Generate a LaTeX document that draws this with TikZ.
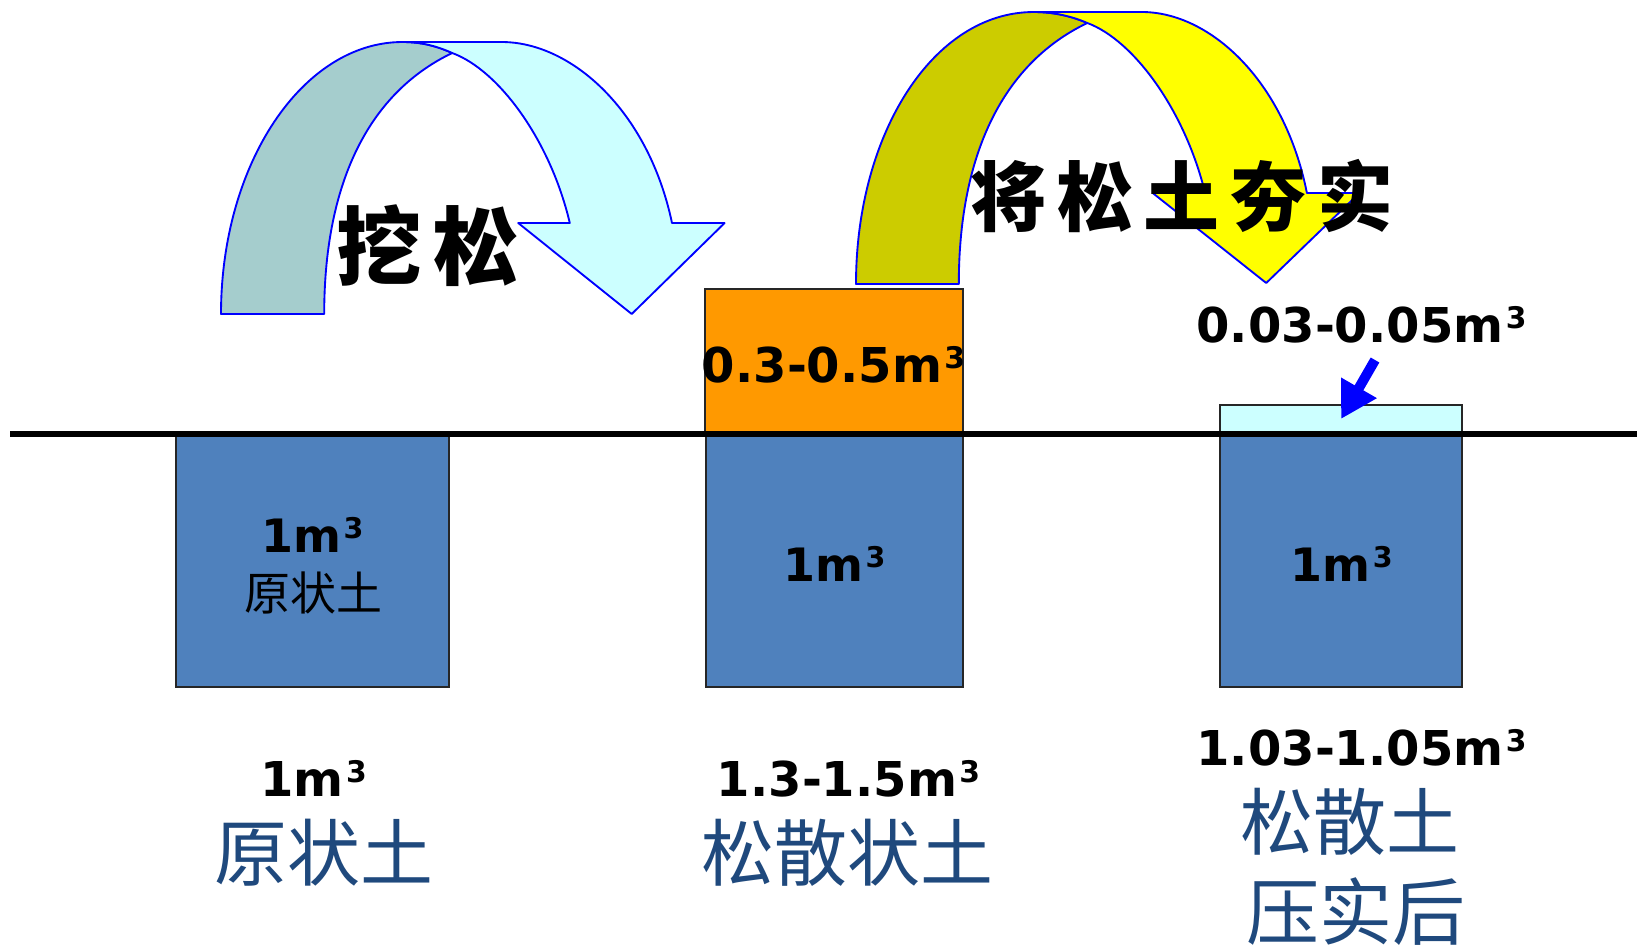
\documentclass[tikz,border=0pt]{standalone}
\usepackage{fontspec}
\setmainfont{DejaVu Sans}
\newfontfamily\cjk{Noto Sans CJK SC}
\usetikzlibrary{arrows.meta}
\definecolor{soilblue}{HTML}{4F81BD}
\definecolor{soilorange}{HTML}{FF9900}
\definecolor{soilcyan}{HTML}{CCFFFF}
\definecolor{arrdark}{HTML}{A5CDCD}
\definecolor{ydark}{HTML}{CCCC00}
\definecolor{ylight}{HTML}{FFFF00}
\definecolor{navy}{HTML}{1F497D}
\newcommand\cubesup{\kern0.05em\raisebox{0.29em}{\scalebox{0.62}{3}}\kern0.02em}
\tikzset{
  soilbox/.style={draw=black!85, line width=1.2pt, inner sep=0pt, outer sep=0pt},
  numlbl/.style={font=\fontsize{36}{40}\selectfont\bfseries, anchor=base, inner sep=0pt},
  boxnum/.style={font=\fontsize{34.5}{38}\selectfont\bfseries, anchor=base, inner sep=0pt},
  boxcjk/.style={font=\cjk\fontsize{34.5}{38}\selectfont, inner sep=0pt},
  bottomcjk/.style={font=\cjk\fontsize{54.75}{60}\selectfont, text=navy, inner sep=0pt},
  brush/.style={inner sep=0pt},
  bigarrow/.style={draw=blue, line width=1.4pt, line join=round},
}
\begin{document}
\begin{tikzpicture}[x=0.75pt, y=-0.75pt]
\useasboundingbox (0,0) rectangle (1637,951);

% curved arrow 1 (挖松)
\filldraw[bigarrow, fill=arrdark] (221,314) .. controls (221,164) and (302.5,42) .. (402.6,42)
  .. controls (421.2,42) and (436.7,46) .. (452.2,53)
  .. controls (364.4,95) and (324.2,190) .. (324.2,314) -- cycle;
\filldraw[bigarrow, fill=soilcyan] (402.6,42) -- (501.7,42)
  .. controls (570.8,42) and (648.2,110) .. (672,223) -- (724.6,223) -- (631.7,314)
  -- (518.2,223) -- (569.8,223) .. controls (550.2,140) and (498.6,70) .. (452.2,53)
  .. controls (436.7,46) and (421.2,42) .. (402.6,42) -- cycle;

% curved arrow 2 (将松土夯实)
\filldraw[bigarrow, fill=ydark] (856,284) .. controls (856,134) and (933.1,12) .. (1033.8,12)
  .. controls (1053.1,12) and (1071.3,16) .. (1087.3,23)
  .. controls (999.5,65) and (958.8,160) .. (958.8,284) -- cycle;
\filldraw[bigarrow, fill=ylight] (1033.8,12) -- (1141.9,12)
  .. controls (1209.4,12) and (1284.4,80) .. (1306.9,193) -- (1359.4,193) -- (1266.2,283)
  -- (1152.7,193) -- (1205.1,193) .. controls (1184.8,110) and (1133.4,40) .. (1087.3,23)
  .. controls (1071.3,16) and (1053.1,12) .. (1033.8,12) -- cycle;

\node[brush, font=\cjk\bfseries\fontsize{64}{68}\selectfont] (wa) at (428,246) {挖\hspace{9pt}松};
\node[brush, font=\cjk\bfseries\fontsize{57}{60}\selectfont] (hang) at (1182,196) {将\hspace{8pt}松\hspace{8pt}土\hspace{8pt}夯\hspace{8pt}实};

% boxes
\node[soilbox, fill=soilblue, minimum width=204.75pt, minimum height=189.75pt] (b1) at (312.5,560.5) {};
\node[soilbox, fill=soilblue, minimum width=192.75pt, minimum height=189.75pt] (b2) at (834.5,560.5) {};
\node[soilbox, fill=soilorange, minimum width=193.5pt, minimum height=108.75pt] (o2) at (834,361.5) {};
\node[soilbox, fill=soilblue, minimum width=181.5pt, minimum height=189.75pt] (b3) at (1341,560.5) {};
\node[soilbox, fill=soilcyan, minimum width=181.5pt, minimum height=21.75pt] (c3) at (1341,419.5) {};

% ground line
\coordinate (gl) at (10,434);
\coordinate (gr) at (1637,434);
\draw[line width=4.5pt] (gl) -- (gr);

% box labels
\node[boxnum] (b1n) at (313,552) {1m\cubesup};
\node[boxcjk] (b1t) at (313,593) {原状土};
\node[boxnum] (b2n) at (835,581) {1m\cubesup};
\node[boxnum] (b3n) at (1342,581) {1m\cubesup};
\node[numlbl] (o2n) at (834,382) {0.3-0.5m\cubesup};
\node[numlbl] (c3n) at (1362,342) {0.03-0.05m\cubesup};

% small blue arrow
\coordinate (pt) at (1375,360);
\coordinate (ph) at (1341,419);
\draw[blue, line width=7.5pt, -{Triangle[length=27pt,width=29pt]}] (pt) -- (ph);

% bottom labels
\node[numlbl] (l1n) at (314,796) {1m\cubesup};
\node[bottomcjk] (l1t) at (324,853) {原状土};
\node[numlbl] (l2n) at (849,796) {1.3-1.5m\cubesup};
\node[bottomcjk] (l2t) at (847,853) {松散状土};
\node[numlbl] (l3n) at (1362,765) {1.03-1.05m\cubesup};
\node[bottomcjk] (l3t) at (1350,822) {松散土};
\node[bottomcjk] (l3u) at (1356,912) {压实后};
\end{tikzpicture}
\end{document}
